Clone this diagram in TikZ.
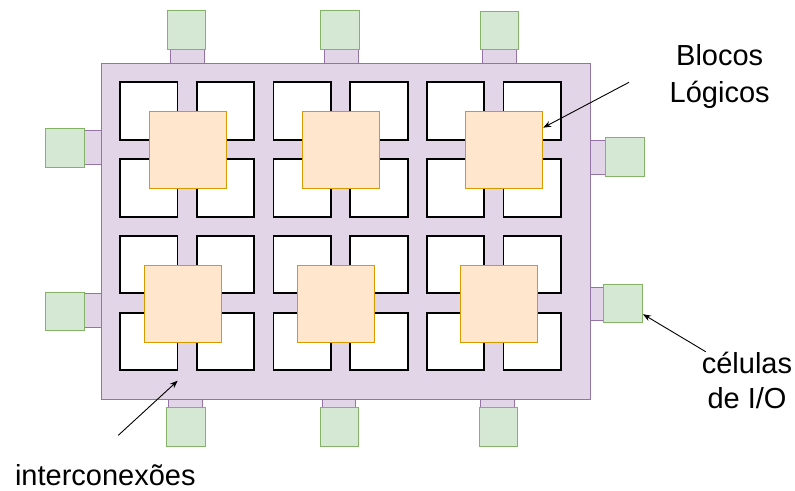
\documentclass[tikz,border=0pt]{standalone}
\usepackage{fontspec}
\setmainfont{Liberation Sans}
\usetikzlibrary{arrows.meta,calc}
\definecolor{pfill}{HTML}{E1D5E7}
\definecolor{pline}{HTML}{9673A6}
\definecolor{gfill}{HTML}{D5E8D4}
\definecolor{gline}{HTML}{82B366}
\definecolor{ofill}{HTML}{FFE6CC}
\definecolor{oline}{HTML}{D79B00}
\begin{document}
\begin{tikzpicture}[x=1pt,y=-1pt,
 chip/.style={draw=pline,fill=pfill,line width=1pt,inner sep=0,minimum width=489pt,minimum height=335.6pt},
 conn/.style={draw=pline,fill=pfill,line width=1pt,inner sep=0},
 cell/.style={draw=black,fill=white,line width=1.8pt,inner sep=0,minimum size=57.5pt},
 blk/.style={draw=oline,fill=ofill,line width=1pt,inner sep=0,minimum size=77pt},
 io/.style={draw=gline,fill=gfill,line width=1pt,inner sep=0,minimum size=38.5pt},
 lbl/.style={align=center,inner sep=0},
 arr/.style={draw=black,line width=0.9pt,-{Stealth[length=8pt,width=6pt]}}]
\useasboundingbox (0,0) rectangle (795,490);
% connectors
\foreach \n/\xx in {1/187.5,2/341.2,3/499.5}
  \node[conn,minimum width=33.6pt,minimum height=20pt] (ct\n) at (\xx,56) {};
\foreach \n/\yy in {1/147.8,2/310.8}
  \node[conn,minimum width=24pt,minimum height=33.7pt] (cl\n) at (92,\yy) {};
\node[conn,minimum width=21pt,minimum height=33.6pt] (cr1) at (598.5,157.5) {};
\node[conn,minimum width=19pt,minimum height=33.4pt] (cr2) at (597.5,304) {};
\foreach \n/\xx in {1/185.5,2/339,3/497.2}
  \node[conn,minimum width=33.6pt,minimum height=14pt] (cd\n) at (\xx,404) {};
% chip
\node[chip] (chip) at (345.8,231.5) {};
% cells
\foreach \i in {0,...,5}
  \foreach \j/\yy in {0/111.1,1/188.1,2/264.5,3/341.5}
    \node[cell] (c\i\j) at ({148.75+76.7*\i},\yy) {};
% logic blocks
\node[blk] (b1) at (187.7,150.2) {};
\node[blk] (b2) at (341,150.2) {};
\node[blk] (b3) at (504.2,150.2) {};
\node[blk] (b4) at (182.8,303.7) {};
\node[blk] (b5) at (336.2,303.7) {};
\node[blk] (b6) at (499.2,303.7) {};
% io cells
\node[io] (t1) at (186.7,30.2) {};
\node[io] (t2) at (340.2,30.2) {};
\node[io] (t3) at (499.5,30.5) {};
\node[io] (l1) at (65,148.2) {};
\node[io] (l2) at (65,311.3) {};
\node[io] (r1) at (625,156.8) {};
\node[io] (r2) at (623.2,303.7) {};
\node[io] (d1) at (185.8,427) {};
\node[io] (d2) at (339.5,427) {};
\node[io] (d3) at (498.5,427) {};
% labels
\node[lbl,font=\fontsize{29}{36}\selectfont] (tb) at (719.7,76.5) {Blocos\\Lógicos};
\node[lbl,font=\fontsize{29}{34.4}\selectfont] (tc) at (747,380.5) {células\\de I/O};
\node[lbl,font=\fontsize{29}{34}\selectfont,anchor=base] (ti) at (105.3,485) {interconexões};
% arrows
\coordinate (ab) at (629,82.3);
\draw[arr] (ab) -- (b3.30);
\coordinate (ac) at (705.7,351.7);
\draw[arr] (ac) -- (r2.-28);
\coordinate (ai) at (118.3,435.3);
\coordinate (ait) at (177.7,380.7);
\draw[arr] (ai) -- (ait);
\end{tikzpicture}
\end{document}
